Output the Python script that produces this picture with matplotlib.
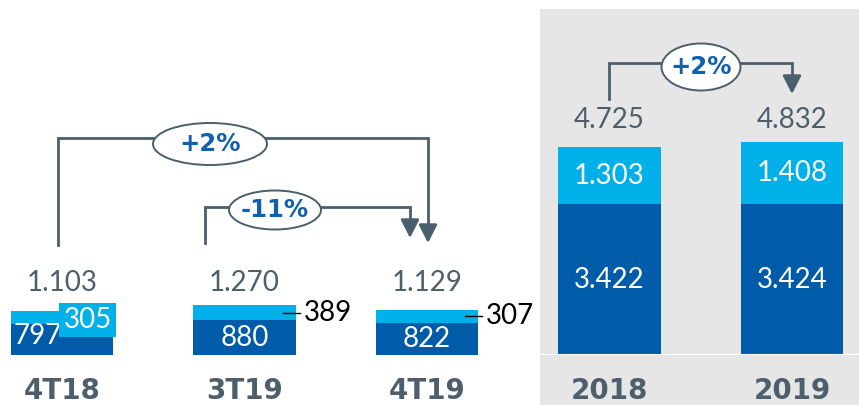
import matplotlib.pyplot as plt
from matplotlib.patches import Rectangle, Ellipse

# values
quarters = ['4T18', '3T19', '4T19']
q_base = [797, 880, 822]
q_top = [305, 389, 307]
q_total = ['1.103', '1.270', '1.129']

years = ['2018', '2019']
y_base = [3422, 3424]
y_top = [1303, 1408]
y_total = ['4.725', '4.832']

DARK = '#005ba9'
LIGHT = '#00b0e8'
GREY_TXT = '#4d5f6b'
LINE = '#4a5f6c'
PCT = '#1060b0'
NUM_FONT = ['Lato', 'DejaVu Sans']
NUM_SIZE = 20

W, H = 859, 405
fig = plt.figure(figsize=(W / 100, H / 100), dpi=100)
fig.patch.set_facecolor('white')

# grey panel behind the yearly bars
fig.add_artist(Rectangle((540 / W, 0), 319 / W, 396 / H, transform=fig.transFigure,
                         facecolor='#e6e6e6', edgecolor='none', zorder=-1))

# x mapping shared by both axes: pixel = 62 + 182.5 * x
STEP, X0 = 182.5, 62
BASE_PX = 355
LEFT_SCALE, RIGHT_SCALE = 0.0395, 0.044  # px per unit
BW = 0.56


def make_ax(px_left, px_right, scale):
    ax = fig.add_axes([px_left / W, (H - BASE_PX) / H, (px_right - px_left) / W, BASE_PX / H])
    ax.set_xlim((px_left - X0) / STEP, (px_right - X0) / STEP)
    ax.set_ylim(0, BASE_PX / scale)
    ax.set_facecolor('none')
    for s in ax.spines.values():
        s.set_visible(False)
    ax.set_xticks([])
    ax.set_yticks([])
    return ax


ax1 = make_ax(0, 540, LEFT_SCALE)
ax2 = make_ax(540, 859, RIGHT_SCALE)

# quarterly bars
xq = [0, 1, 2]
ax1.bar(xq, q_base, width=BW, color=DARK)
ax1.bar(xq, q_top, bottom=q_base, width=BW, color=LIGHT)
for i, x in enumerate(xq):
    ax1.text(x, (BASE_PX - 283) / LEFT_SCALE, q_total[i], ha='center', va='center',
             fontsize=NUM_SIZE, color=GREY_TXT, family=NUM_FONT)
    ax1.text(x, (BASE_PX - 391) / LEFT_SCALE, quarters[i], ha='center', va='center',
             fontsize=20, color=GREY_TXT, fontweight='bold', family='DejaVu Sans')

# 4T18: labels squeezed in
ax1.text(xq[0] - BW / 2 + 0.015, q_base[0] / 2 + 80, str(q_base[0]), ha='left', va='center',
         fontsize=NUM_SIZE, color='white', family=NUM_FONT)
ax1.text(xq[0] + 0.14, q_base[0] + q_top[0] * 0.29, str(q_top[0]), ha='center', va='center',
         fontsize=NUM_SIZE, color='white', family=NUM_FONT,
         bbox=dict(facecolor=LIGHT, edgecolor='none', pad=3))
# 3T19, 4T19
for i in [1, 2]:
    x = xq[i]
    ax1.text(x, q_base[i] / 2, str(q_base[i]), ha='center', va='center',
             fontsize=NUM_SIZE, color='white', family=NUM_FONT)
    ym = q_base[i] + q_top[i] / 2
    ax1.plot([x + BW / 2 - 0.071, x + BW / 2 + 0.022], [ym, ym], color='black', lw=1)
    ax1.text(x + BW / 2 + 0.045, ym, str(q_top[i]), ha='left', va='center',
             fontsize=NUM_SIZE, color='black', family=NUM_FONT)

# yearly bars
xy = [3, 4]
ax2.bar(xy, y_base, width=BW, color=DARK)
ax2.bar(xy, y_top, bottom=y_base, width=BW, color=LIGHT)
ax2.axhline(0, color='white', lw=1.5)
for i, x in enumerate(xy):
    ax2.text(x, y_base[i] / 2, f'{y_base[i] / 1000:.3f}', ha='center', va='center',
             fontsize=NUM_SIZE, color='white', family=NUM_FONT)
    ax2.text(x, y_base[i] + y_top[i] / 2, f'{y_top[i] / 1000:.3f}', ha='center', va='center',
             fontsize=NUM_SIZE, color='white', family=NUM_FONT)
    ax2.text(x, (BASE_PX - 120) / RIGHT_SCALE, y_total[i], ha='center', va='center',
             fontsize=NUM_SIZE, color=GREY_TXT, family=NUM_FONT)
    ax2.text(x, (BASE_PX - 391) / RIGHT_SCALE, years[i], ha='center', va='center',
             fontsize=20, color=GREY_TXT, fontweight='bold', family='DejaVu Sans')

# overlay in pixel coordinates for the growth brackets
ov = fig.add_axes([0, 0, 1, 1], zorder=5)
ov.set_xlim(0, W)
ov.set_ylim(H, 0)
ov.axis('off')


def bracket(x_start, y_start, y_bar, x_end, y_tip, ell, label):
    ov.plot([x_start, x_start, x_end, x_end], [y_start, y_bar, y_bar, y_tip - 14],
            color=LINE, lw=2, solid_joinstyle='miter')
    ov.annotate('', xy=(x_end, y_tip), xytext=(x_end, y_tip - 16),
                arrowprops=dict(arrowstyle='-|>,head_length=0.55,head_width=0.28',
                                mutation_scale=20, color=LINE, lw=2, shrinkA=0, shrinkB=0))
    cx, cy, ew, eh = ell
    ov.add_patch(Ellipse((cx, cy), ew, eh, facecolor='white', edgecolor=LINE, lw=1.4, zorder=3))
    ov.text(cx, cy, label, ha='center', va='center', fontsize=17.5, fontweight='bold',
            color=PCT, family='DejaVu Sans', zorder=4)


bracket(58, 245, 138, 428, 243, (210, 144, 114, 42), '+2%')
bracket(205, 243, 207, 410, 238, (275, 210, 92, 39), '-11%')
bracket(609, 99, 63, 792, 94, (701, 67, 79, 47), '+2%')

fig.savefig('out.png', dpi=100)
